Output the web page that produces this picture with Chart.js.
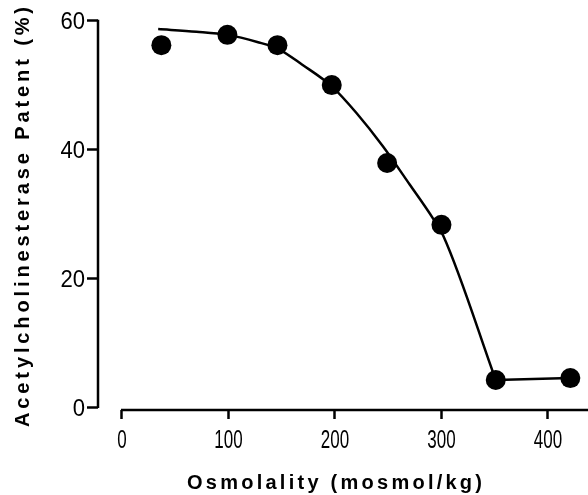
<!DOCTYPE html>
<html>
<head>
<meta charset="utf-8">
<script src="https://cdn.jsdelivr.net/npm/chart.js@4/dist/chart.umd.min.js"></script>
<style>
  html, body { margin: 0; padding: 0; background: #fff; }
  #wrap { width: 588px; height: 495px; position: relative; }
</style>
</head>
<body>
<div id="wrap"><canvas id="c" width="588" height="495"></canvas></div>
<script>
// Measured data points (osmolality mosmol/kg, % patent)
const pointX = [37, 99, 146, 197, 249, 300, 351, 421];
const pointY = [56.2, 57.8, 56.2, 50.0, 37.9, 28.3, 4.2, 4.5];

// Fitted curve
const curveX = [34, 70, 99, 127, 147, 169, 197, 220, 245, 270, 292, 302, 351];
const curveY = [58.7, 58.3, 57.8, 56.7, 55.6, 53.2, 49.8, 45.7, 40.5, 34.6, 29.3, 26.5, 4.2];

// Plateau segment
const plateauX = [351, 421];
const plateauY = [4.2, 4.5];

// Tick values
const xTicks = [0, 100, 200, 300, 400];
const yTicks = [0, 20, 40, 60];

const xTitle = 'Osmolality (mosmol/kg)';
const yTitle = 'Acetylcholinesterase Patent (%)';

const toXY = (xs, ys) => xs.map((x, i) => ({ x: x, y: ys[i] }));

function spacedText(ctx, text, x, y, span) {
  ctx.letterSpacing = '0px';
  const w = ctx.measureText(text).width;
  const n = [...text].length;
  const sp = (span - w) / (n - 1);
  ctx.letterSpacing = sp + 'px';
  ctx.fillText(text, x, y);
  ctx.letterSpacing = '0px';
}

function narrowText(ctx, text, x, y, align, squeeze) {
  ctx.save();
  ctx.translate(x, y);
  ctx.scale(squeeze, 1);
  ctx.textAlign = align;
  ctx.fillText(text, 0, 0);
  ctx.restore();
}

const axesPlugin = {
  id: 'axesAndTitles',
  afterDraw(chart) {
    const ctx = chart.ctx;
    const xs = chart.scales.x, ys = chart.scales.y;
    const area = chart.chartArea;
    ctx.save();
    ctx.strokeStyle = '#000';
    ctx.lineWidth = 2.5;
    ctx.lineCap = 'butt';
    // y axis line
    ctx.beginPath();
    ctx.moveTo(area.left, ys.getPixelForValue(yTicks[yTicks.length - 1]) - 1);
    ctx.lineTo(area.left, ys.getPixelForValue(0) + 1);
    ctx.stroke();
    // x axis line
    ctx.beginPath();
    ctx.moveTo(xs.getPixelForValue(0) - 1, area.bottom);
    ctx.lineTo(area.right, area.bottom);
    ctx.stroke();

    // tick labels
    ctx.fillStyle = '#000';
    ctx.textBaseline = 'alphabetic';
    ctx.font = '25px "Liberation Sans", Arial, sans-serif';
    xs.ticks.forEach(t => {
      narrowText(ctx, String(t.value), xs.getPixelForValue(t.value), area.bottom + 38, 'center', 0.68);
    });
    ctx.font = '24px "Liberation Sans", Arial, sans-serif';
    ys.ticks.forEach(t => {
      narrowText(ctx, String(t.value), area.left - 13, ys.getPixelForValue(t.value) + 8.7, 'right', 0.92);
    });

    // titles
    ctx.font = 'bold 20px "Liberation Sans", Arial, sans-serif';
    ctx.textAlign = 'left';
    ctx.textBaseline = 'alphabetic';
    spacedText(ctx, xTitle, 187, 489, 295);
    ctx.translate(29, 427);
    ctx.rotate(-Math.PI / 2);
    spacedText(ctx, yTitle, 0, 0, 420);
    ctx.restore();
  }
};

new Chart(document.getElementById('c'), {
  type: 'scatter',
  data: {
    datasets: [
      {
        data: toXY(curveX, curveY),
        showLine: true,
        borderColor: '#000',
        borderWidth: 2.5,
        pointRadius: 0,
        cubicInterpolationMode: 'monotone',
        fill: false
      },
      {
        data: toXY(plateauX, plateauY),
        showLine: true,
        borderColor: '#000',
        borderWidth: 2.5,
        pointRadius: 0,
        tension: 0,
        fill: false
      },
      {
        data: toXY(pointX, pointY),
        showLine: false,
        pointRadius: 10,
        pointHoverRadius: 10,
        pointBackgroundColor: '#000',
        pointBorderColor: '#000',
        pointBorderWidth: 0
      }
    ]
  },
  options: {
    responsive: false,
    animation: false,
    devicePixelRatio: 1,
    events: [],
    layout: { autoPadding: false, padding: { top: 20.7, left: 0, right: 0, bottom: 0 } },
    plugins: { legend: { display: false }, tooltip: { enabled: false } },
    scales: {
      x: {
        type: 'linear',
        min: -22.5,
        max: 437.6,
        afterBuildTicks: s => { s.ticks = xTicks.map(v => ({ value: v })); },
        afterFit: s => { s.height = 85; },
        border: { display: false },
        grid: { drawOnChartArea: false, drawTicks: true, tickLength: 9, tickWidth: 2.5, tickColor: '#000' },
        ticks: { display: false, autoSkip: false }
      },
      y: {
        type: 'linear',
        min: -0.45,
        max: 60,
        afterBuildTicks: s => { s.ticks = yTicks.map(v => ({ value: v })); },
        afterFit: s => { s.width = 98; },
        border: { display: false },
        grid: { drawOnChartArea: false, drawTicks: true, tickLength: 11, tickWidth: 2.5, tickColor: '#000' },
        ticks: { display: false, autoSkip: false }
      }
    }
  },
  plugins: [axesPlugin]
});
</script>
</body>
</html>
